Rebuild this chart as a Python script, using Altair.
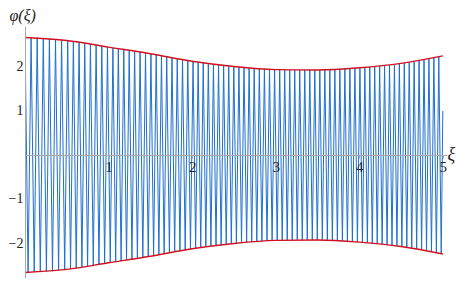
import altair as alt
import pandas as pd

# Extrema of the oscillating solution phi(xi) (alternating max / min)
extrema_xi = [
    0.000, 0.037, 0.073, 0.110, 0.146, 0.183, 0.219, 0.256, 0.292, 0.329,
    0.365, 0.402, 0.438, 0.475, 0.511, 0.545, 0.579, 0.613, 0.647, 0.681,
    0.715, 0.749, 0.783, 0.817, 0.851, 0.885, 0.919, 0.953, 0.987, 1.020,
    1.052, 1.085, 1.117, 1.150, 1.182, 1.215, 1.247, 1.280, 1.312, 1.345,
    1.377, 1.410, 1.442, 1.475, 1.507, 1.539, 1.570, 1.602, 1.633, 1.665,
    1.696, 1.728, 1.759, 1.791, 1.822, 1.854, 1.885, 1.917, 1.948, 1.980,
    2.011, 2.042, 2.072, 2.103, 2.133, 2.164, 2.194, 2.225, 2.255, 2.286,
    2.316, 2.347, 2.377, 2.408, 2.438, 2.469, 2.499, 2.530, 2.560, 2.591,
    2.621, 2.652, 2.682, 2.713, 2.743, 2.774, 2.804, 2.835, 2.865, 2.896,
    2.926, 2.957, 2.987, 3.018, 3.048, 3.078, 3.108, 3.138, 3.168, 3.198,
    3.228, 3.258, 3.288, 3.318, 3.348, 3.378, 3.408, 3.438, 3.468, 3.498,
    3.528, 3.558, 3.588, 3.618, 3.648, 3.678, 3.708, 3.738, 3.768, 3.798,
    3.828, 3.858, 3.888, 3.918, 3.948, 3.978, 4.008, 4.038, 4.067, 4.097,
    4.126, 4.156, 4.185, 4.215, 4.244, 4.274, 4.303, 4.333, 4.362, 4.392,
    4.421, 4.451, 4.480, 4.510, 4.539, 4.569, 4.598, 4.628, 4.657, 4.687,
    4.716, 4.746, 4.775, 4.805, 4.834, 4.864, 4.893, 4.923, 4.952, 4.981,
    5.000,
]
extrema_phi = [
    2.67, -2.67, 2.67, -2.66, 2.66, -2.66, 2.65, -2.65, 2.64, -2.64,
    2.63, -2.62, 2.61, -2.61, 2.60, -2.59, 2.58, -2.57, 2.56, -2.55,
    2.54, -2.53, 2.52, -2.51, 2.50, -2.49, 2.48, -2.46, 2.45, -2.44,
    2.43, -2.42, 2.42, -2.41, 2.40, -2.39, 2.38, -2.37, 2.36, -2.35,
    2.34, -2.33, 2.32, -2.31, 2.30, -2.29, 2.28, -2.27, 2.25, -2.24,
    2.23, -2.22, 2.21, -2.20, 2.19, -2.18, 2.17, -2.16, 2.15, -2.14,
    2.13, -2.12, 2.11, -2.10, 2.09, -2.08, 2.08, -2.07, 2.06, -2.05,
    2.05, -2.04, 2.03, -2.03, 2.02, -2.01, 2.01, -2.00, 2.00, -1.99,
    1.99, -1.99, 1.98, -1.98, 1.97, -1.97, 1.97, -1.96, 1.96, -1.95,
    1.95, -1.95, 1.94, -1.94, 1.94, -1.94, 1.93, -1.93, 1.93, -1.93,
    1.93, -1.93, 1.93, -1.93, 1.93, -1.93, 1.93, -1.93, 1.93, -1.93,
    1.93, -1.93, 1.94, -1.94, 1.94, -1.94, 1.94, -1.95, 1.95, -1.95,
    1.96, -1.96, 1.96, -1.97, 1.97, -1.98, 1.98, -1.99, 1.99, -2.00,
    2.00, -2.01, 2.01, -2.02, 2.02, -2.03, 2.03, -2.04, 2.04, -2.05,
    2.05, -2.06, 2.07, -2.08, 2.09, -2.10, 2.10, -2.11, 2.12, -2.13,
    2.14, -2.15, 2.16, -2.17, 2.18, -2.19, 2.20, -2.21, 2.23, -2.24,
    1.00,
]

# Envelope (red curves)
env_xi = [0.0, 0.5, 1.0, 1.5, 2.0, 2.5, 3.0, 3.5, 4.0, 4.5, 5.0]
env_upper = [2.67, 2.60, 2.45, 2.30, 2.13, 2.01, 1.94, 1.93, 1.98, 2.08, 2.25]
env_lower = [-2.67, -2.60, -2.45, -2.30, -2.13, -2.01, -1.94, -1.93, -1.98, -2.08, -2.25]

x_ticks = [1, 2, 3, 4, 5]
y_ticks = [-2, -1, 1, 2]

osc = pd.DataFrame({"xi": extrema_xi, "phi": extrema_phi})
env = pd.DataFrame({
    "xi": env_xi + env_xi,
    "phi": env_upper + env_lower,
    "branch": ["upper"] * len(env_xi) + ["lower"] * len(env_xi),
})

W, H = 422, 252
X_DOM = [0, 5.05]
Y_DOM = [-2.795, 2.93]
zero_from_bottom = H * (0 - Y_DOM[0]) / (Y_DOM[1] - Y_DOM[0])

FONT = "'Liberation Serif', serif"
MINUS_EXPR = "datum.value < 0 ? '\u2212' + abs(datum.value) : datum.label"

x_enc = alt.X(
    "xi:Q",
    scale=alt.Scale(domain=X_DOM, nice=False, zero=False),
    axis=alt.Axis(
        values=x_ticks, format="d", offset=-zero_from_bottom, zindex=1,
        domainColor="#a8a8a8", tickColor="#a8a8a8", tickSize=3,
        labelPadding=2, labelFont=FONT, labelFontSize=15, labelColor="#222",
        grid=False, title="ξ", titleFont=FONT, titleFontStyle="italic",
        titleFontWeight="normal", titleFontSize=18, titleColor="#222",
        titleAngle=0, titleX=422, titleY=5, titleBaseline="alphabetic",
        titleAlign="left",
    ),
)
y_enc = alt.Y(
    "phi:Q",
    scale=alt.Scale(domain=Y_DOM, nice=False, zero=False),
    axis=alt.Axis(
        values=y_ticks, format="d", zindex=1, labelExpr=MINUS_EXPR,
        domainColor="#a8a8a8", ticks=False,
        labelPadding=2, labelFont=FONT, labelFontSize=14, labelColor="#222",
        grid=False, title="φ(ξ)", titleFont=FONT, titleFontStyle="italic",
        titleFontWeight="normal", titleFontSize=16, titleColor="#222",
        titleAngle=0, titleX=-16, titleY=-6, titleAlign="left",
        titleBaseline="alphabetic",
    ),
)

blue = alt.Chart(osc).mark_line(color="#1f6fcf", strokeWidth=1.0, clip=True).encode(
    x=x_enc, y=y_enc
)
red = alt.Chart(env).mark_line(color="#d0101e", strokeWidth=1.4, interpolate="monotone").encode(
    x=alt.X("xi:Q"), y=alt.Y("phi:Q"), detail="branch:N"
)

chart = alt.layer(blue, red).properties(
    width=W, height=H,
    padding={"left": 17, "top": 18, "right": 10, "bottom": 0},
    autosize=alt.AutoSizeParams(type="none"),
).configure_view(stroke=None)

chart.save("out.html", embed_options={"renderer": "svg", "actions": False})
